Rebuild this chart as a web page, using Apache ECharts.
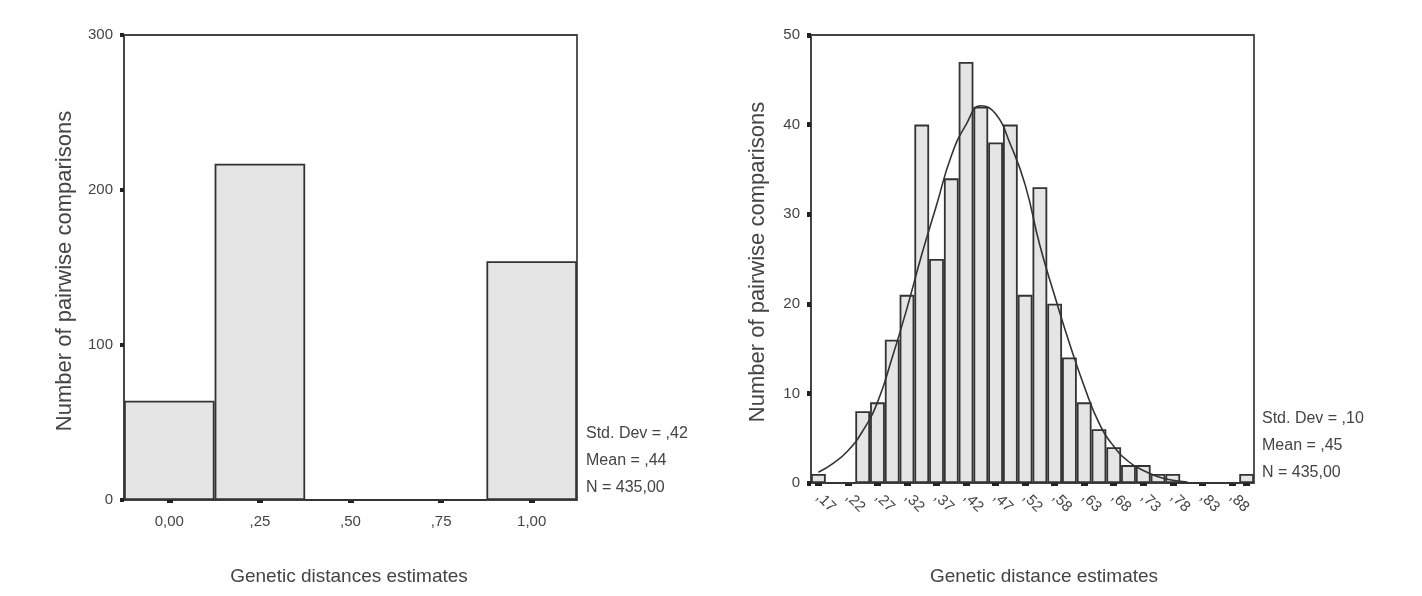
<!DOCTYPE html>
<html>
<head>
<meta charset="utf-8">
<title>Genetic distances</title>
<script src="https://cdn.jsdelivr.net/npm/echarts@6/dist/echarts.min.js"></script>
<style>
  html, body { margin: 0; padding: 0; background: #fff; }
  #main { width: 1422px; height: 596px; }
</style>
</head>
<body>
<div id="main"></div>
<script>
// left histogram (5 bins)
var leftCats = ['0,00', ',25', ',50', ',75', '1,00'];
var leftCounts = [64, 217, 0, 0, 154];
var leftStats = ['Std. Dev = ,42', 'Mean = ,44', 'N = 435,00'];

// right histogram (30 bins, labelled every second bin)
var rightTickLabels = [',17', ',22', ',27', ',32', ',37', ',42', ',47', ',52', ',58', ',63', ',68', ',73', ',78', ',83', ',88'];
var rightCounts = [1, 0, 0, 8, 9, 16, 21, 40, 25, 34, 47, 42, 38, 40, 21, 33, 20, 14, 9, 6, 4, 2, 2, 1, 1, 0, 0, 0, 0, 1];
// fitted normal curve at each bin centre
var normalCurve = [1.2, 2.2, 3.6, 5.8, 9.0, 14, 19.5, 25.5, 31, 36.5, 40, 42.1, 41.2, 37.8, 33.3, 26.5, 20.9, 15.6, 10.8, 6.7, 4.1, 2.4, 1.4, 0.7, 0.3, 0.1, null, null, null, null];
var rightStats = ['Std. Dev = ,10', 'Mean = ,45', 'N = 435,00'];

var yTitle = 'Number of pairwise comparisons';
var leftXTitle = 'Genetic distances estimates';
var rightXTitle = 'Genetic distance estimates';

var rightCats = [];
for (var i = 0; i < rightCounts.length; i++) {
    rightCats.push(i % 2 === 0 ? rightTickLabels[i / 2] : '');
}

var FONT = '"Liberation Sans", Arial, sans-serif';
var TXT = '#444';
var LINE = '#444';

function statTexts(list, x, y0) {
    return list.map(function (t, k) {
        return {
            type: 'text', x: x, y: y0 + k * 27,
            style: { text: t, fontSize: 16, fontFamily: FONT, fill: TXT, verticalAlign: 'middle' }
        };
    });
}

var barStyle = { color: '#e5e5e5', borderColor: '#333', borderWidth: 1.8 };

var option = {
    backgroundColor: '#fff',
    animation: false,
    grid: [
        { left: 124, top: 35, width: 453, height: 465, show: true, borderColor: LINE, borderWidth: 1.8 },
        { left: 811, top: 35, width: 443, height: 448, show: true, borderColor: LINE, borderWidth: 1.8 }
    ],
    xAxis: [
        {
            type: 'category', gridIndex: 0, data: leftCats, offset: 2,
            axisLine: { show: false },
            axisTick: { show: true, alignWithLabel: true, length: 3, lineStyle: { width: 6, color: '#222' } },
            axisLabel: { fontSize: 15, fontFamily: FONT, color: TXT, margin: 12 }
        },
        {
            type: 'category', gridIndex: 1, data: rightCats, offset: 3,
            axisLine: { show: false },
            axisTick: { show: true, alignWithLabel: true, length: 3, interval: 1, lineStyle: { width: 7, color: '#222' } },
            axisLabel: { fontSize: 15, fontFamily: FONT, color: TXT, rotate: -45, interval: 0, margin: 9 }
        }
    ],
    yAxis: [
        {
            type: 'value', gridIndex: 0, min: 0, max: 300, interval: 100,
            axisLine: { show: true, lineStyle: { color: LINE, width: 1.8 } },
            axisTick: { show: true, length: 4, lineStyle: { width: 4, color: '#222' } },
            splitLine: { show: false },
            axisLabel: { fontSize: 15, fontFamily: FONT, color: TXT, margin: 11 }
        },
        {
            type: 'value', gridIndex: 1, min: 0, max: 50, interval: 10,
            axisLine: { show: true, lineStyle: { color: LINE, width: 1.8 } },
            axisTick: { show: true, length: 4, lineStyle: { width: 5, color: '#222' } },
            splitLine: { show: false },
            axisLabel: { fontSize: 15, fontFamily: FONT, color: TXT, margin: 11 }
        }
    ],
    series: [
        {
            type: 'bar', xAxisIndex: 0, yAxisIndex: 0, data: leftCounts,
            barCategoryGap: 0, itemStyle: barStyle
        },
        {
            type: 'bar', xAxisIndex: 1, yAxisIndex: 1, data: rightCounts,
            barCategoryGap: 0, itemStyle: barStyle
        },
        {
            type: 'line', xAxisIndex: 1, yAxisIndex: 1, data: normalCurve,
            smooth: true, showSymbol: false, z: 5,
            lineStyle: { color: '#333', width: 1.6 }
        }
    ],
    graphic: [
        {
            type: 'text', x: 65, y: 271, rotation: Math.PI / 2,
            style: { text: yTitle, fontSize: 22, fontFamily: FONT, fill: TXT, align: 'center', verticalAlign: 'middle' }
        },
        {
            type: 'text', x: 758, y: 262, rotation: Math.PI / 2,
            style: { text: yTitle, fontSize: 22, fontFamily: FONT, fill: TXT, align: 'center', verticalAlign: 'middle' }
        },
        {
            type: 'text', x: 349, y: 577,
            style: { text: leftXTitle, fontSize: 19, fontFamily: FONT, fill: TXT, align: 'center', verticalAlign: 'middle' }
        },
        {
            type: 'text', x: 1044, y: 577,
            style: { text: rightXTitle, fontSize: 19, fontFamily: FONT, fill: TXT, align: 'center', verticalAlign: 'middle' }
        }
    ].concat(statTexts(leftStats, 586, 434), statTexts(rightStats, 1262, 419))
};

var chart = echarts.init(document.getElementById('main'));
chart.setOption(option);
</script>
</body>
</html>
